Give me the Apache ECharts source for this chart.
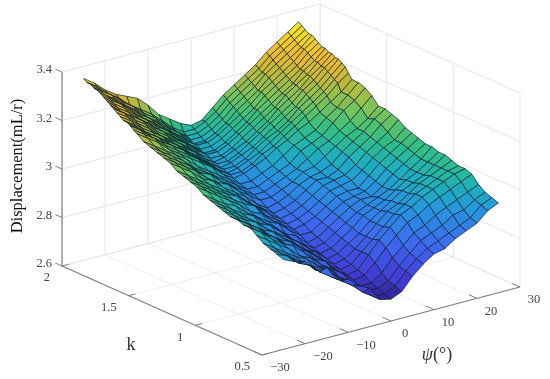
<!DOCTYPE html>
<html><head><meta charset="utf-8">
<style>html,body{margin:0;padding:0;background:#fff}#c{width:550px;height:379px}</style>
<script src="https://cdn.jsdelivr.net/npm/echarts@6/dist/echarts.min.js"></script>
</head><body><div id="c"></div>
<script>
const psiTicks=[-30,-20,-10,0,10,20,30];
const kTicks=[0.5,1,1.5,2];
const zTicks=[2.6,2.8,3,3.2,3.4];
const zTickLabels=['2.6','2.8','3','3.2','3.4'];
const psiValues=[-25,-22.5,-20,-17.5,-15,-12.5,-10,-7.5,-5,-2.5,0,2.5,5,7.5,10,12.5,15,17.5,20,22.5,25];
const kValues=[2,1.975,1.95,1.925,1.9,1.875,1.85,1.825,1.8,1.775,1.75,1.725,1.7,1.675,1.65,1.625,1.6,1.55,1.5,1.45,1.4,1.35,1.3,1.25,1.2,1.15,1.1,1.05,1,0.95,0.9,0.85,0.8,0.75,0.7,0.65,0.6,0.55,0.5];
const displacement=[
[3.35,3.32,3.28,3.25,3.23,3.21,3.17,3.12,3.09,3.06,3.04,3.05,3.09,3.13,3.16,3.19,3.22,3.26,3.29,3.32,3.35],
[3.34,3.31,3.27,3.24,3.20,3.17,3.14,3.10,3.06,3.03,3.03,3.05,3.08,3.12,3.15,3.18,3.21,3.25,3.28,3.31,3.34],
[3.34,3.30,3.27,3.23,3.20,3.16,3.13,3.09,3.05,3.02,3.02,3.04,3.07,3.11,3.14,3.17,3.20,3.24,3.27,3.30,3.33],
[3.33,3.29,3.26,3.22,3.19,3.15,3.12,3.08,3.05,3.01,3.01,3.03,3.06,3.10,3.13,3.16,3.20,3.23,3.26,3.29,3.32],
[3.33,3.29,3.25,3.22,3.18,3.15,3.11,3.07,3.04,3.00,3.00,3.02,3.05,3.09,3.12,3.15,3.19,3.22,3.25,3.28,3.32],
[3.32,3.28,3.25,3.21,3.17,3.14,3.10,3.07,3.03,3.00,3.00,3.02,3.05,3.08,3.11,3.15,3.18,3.21,3.24,3.28,3.31],
[3.31,3.27,3.24,3.20,3.17,3.13,3.10,3.06,3.02,2.99,2.99,3.01,3.04,3.07,3.10,3.14,3.17,3.20,3.23,3.27,3.30],
[3.30,3.26,3.23,3.19,3.16,3.12,3.09,3.05,3.02,2.98,2.98,3.00,3.03,3.06,3.10,3.13,3.16,3.19,3.22,3.26,3.29],
[3.29,3.25,3.22,3.19,3.15,3.12,3.08,3.05,3.01,2.98,2.98,3.00,3.03,3.06,3.09,3.12,3.15,3.18,3.22,3.25,3.29],
[3.28,3.25,3.21,3.18,3.14,3.11,3.07,3.04,3.00,2.97,2.97,2.99,3.02,3.05,3.08,3.11,3.15,3.18,3.21,3.25,3.28],
[3.27,3.24,3.20,3.17,3.13,3.10,3.07,3.03,2.99,2.96,2.97,2.99,3.01,3.04,3.07,3.11,3.14,3.17,3.21,3.24,3.28],
[3.26,3.23,3.19,3.16,3.13,3.09,3.06,3.03,2.99,2.96,2.96,2.98,3.01,3.04,3.07,3.10,3.13,3.17,3.20,3.24,3.27],
[3.25,3.22,3.18,3.15,3.12,3.09,3.05,3.02,2.98,2.95,2.96,2.98,3.00,3.03,3.06,3.09,3.12,3.16,3.19,3.23,3.27],
[3.25,3.21,3.18,3.15,3.11,3.08,3.05,3.01,2.98,2.95,2.95,2.97,3.00,3.03,3.05,3.08,3.12,3.15,3.18,3.22,3.26],
[3.24,3.21,3.17,3.14,3.11,3.08,3.04,3.01,2.97,2.94,2.95,2.97,2.99,3.02,3.05,3.08,3.11,3.14,3.17,3.21,3.25],
[3.23,3.20,3.17,3.13,3.10,3.07,3.04,3.00,2.97,2.94,2.94,2.96,2.99,3.01,3.04,3.07,3.10,3.13,3.16,3.20,3.23],
[3.22,3.19,3.16,3.12,3.09,3.06,3.03,3.00,2.96,2.93,2.94,2.96,2.98,3.01,3.03,3.06,3.08,3.11,3.14,3.17,3.21],
[3.20,3.17,3.14,3.11,3.08,3.04,3.01,2.98,2.95,2.92,2.92,2.94,2.96,2.99,3.02,3.04,3.06,3.10,3.13,3.17,3.21],
[3.19,3.16,3.13,3.10,3.06,3.03,3.00,2.97,2.94,2.91,2.91,2.93,2.95,2.97,3.01,3.03,3.05,3.09,3.13,3.16,3.20],
[3.18,3.15,3.12,3.09,3.05,3.03,2.99,2.96,2.93,2.90,2.90,2.92,2.94,2.96,2.99,3.02,3.04,3.07,3.10,3.14,3.18],
[3.17,3.14,3.11,3.08,3.04,3.01,2.99,2.95,2.92,2.89,2.89,2.91,2.93,2.96,2.97,3.00,3.03,3.06,3.08,3.11,3.15],
[3.16,3.13,3.10,3.06,3.04,3.00,2.97,2.94,2.90,2.87,2.88,2.90,2.93,2.95,2.96,2.98,3.02,3.05,3.08,3.12,3.15],
[3.14,3.11,3.08,3.05,3.02,2.99,2.96,2.92,2.89,2.86,2.87,2.89,2.92,2.95,2.95,2.97,3.01,3.04,3.07,3.11,3.14],
[3.13,3.10,3.07,3.04,3.01,2.99,2.95,2.92,2.88,2.85,2.86,2.88,2.91,2.94,2.95,2.96,2.99,3.03,3.06,3.09,3.13],
[3.12,3.09,3.06,3.03,3.00,2.97,2.95,2.90,2.87,2.84,2.85,2.87,2.90,2.93,2.94,2.95,2.98,3.02,3.05,3.07,3.11],
[3.11,3.08,3.05,3.02,2.99,2.95,2.93,2.89,2.86,2.83,2.84,2.86,2.89,2.92,2.93,2.93,2.97,3.01,3.04,3.07,3.10],
[3.09,3.06,3.03,3.01,2.97,2.94,2.91,2.89,2.85,2.82,2.82,2.85,2.88,2.91,2.92,2.93,2.96,3.00,3.03,3.06,3.09],
[3.08,3.05,3.02,2.99,2.97,2.93,2.90,2.86,2.84,2.80,2.81,2.84,2.87,2.90,2.92,2.92,2.95,2.99,3.02,3.05,3.08],
[3.07,3.04,3.01,2.98,2.95,2.93,2.89,2.85,2.82,2.79,2.80,2.83,2.86,2.89,2.91,2.93,2.95,2.98,3.01,3.04,3.08],
[3.06,3.03,3.00,2.98,2.94,2.91,2.88,2.85,2.81,2.78,2.79,2.82,2.85,2.89,2.91,2.93,2.96,2.99,3.01,3.04,3.07],
[3.05,3.02,2.99,2.96,2.94,2.90,2.87,2.83,2.81,2.77,2.78,2.81,2.84,2.88,2.91,2.94,2.97,2.99,3.01,3.04,3.07],
[3.05,3.02,2.99,2.95,2.92,2.90,2.86,2.83,2.79,2.76,2.77,2.80,2.84,2.88,2.92,2.94,2.97,3.00,3.02,3.04,3.06],
[3.04,3.01,2.98,2.95,2.91,2.88,2.86,2.82,2.78,2.75,2.76,2.80,2.84,2.88,2.92,2.95,2.98,3.00,3.02,3.04,3.05],
[3.04,3.01,2.97,2.94,2.92,2.88,2.84,2.82,2.77,2.74,2.75,2.80,2.85,2.89,2.93,2.95,2.98,3.00,3.02,3.04,3.05],
[3.02,2.99,2.96,2.93,2.89,2.87,2.83,2.80,2.77,2.73,2.74,2.78,2.83,2.87,2.91,2.93,2.96,2.98,3.00,3.02,3.04],
[3.00,2.97,2.94,2.91,2.89,2.85,2.83,2.78,2.75,2.72,2.72,2.75,2.80,2.84,2.88,2.90,2.93,2.95,2.97,2.99,3.01],
[2.99,2.96,2.93,2.90,2.87,2.85,2.81,2.78,2.74,2.71,2.71,2.73,2.78,2.82,2.86,2.88,2.90,2.93,2.94,2.97,2.99],
[2.98,2.96,2.92,2.90,2.86,2.83,2.80,2.77,2.73,2.70,2.70,2.72,2.77,2.81,2.84,2.86,2.88,2.90,2.92,2.96,2.98],
[2.97,2.95,2.94,2.89,2.89,2.83,2.82,2.78,2.76,2.70,2.69,2.71,2.76,2.80,2.83,2.84,2.87,2.89,2.91,2.95,2.97]
];

// View of the 3D box on the page plane
const view={x0:262,y0:355,px:4.3,py:1.133,kx:133.3,ky:59.3,zy:242.5};
function project(p,k,z){
  return [view.x0+(p+30)*view.px-(k-0.5)*view.kx,
          view.y0-(p+30)*view.py-(k-0.5)*view.ky-(z-2.6)*view.zy];
}
const stops=[[0,[44,30,130]],[0.1,[66,60,215]],[0.25,[62,105,240]],[0.38,[40,145,225]],[0.48,[30,175,190]],[0.58,[50,190,130]],[0.68,[120,195,90]],[0.78,[190,185,60]],[0.87,[240,185,50]],[1,[248,240,30]]];
function parula(z,shade){
  const t=Math.max(0,Math.min(1,(z-2.68)/0.67));
  let rgb=stops[stops.length-1][1];
  for(let i=1;i<stops.length;i++){
    if(t<=stops[i][0]){
      const a=stops[i-1],b=stops[i],f=(t-a[0])/(b[0]-a[0]);
      rgb=a[1].map((v,n)=>v+(b[1][n]-v)*f);
      break;
    }
  }
  return 'rgb('+rgb.map(v=>Math.round(v*shade)).join(',')+')';
}
const cells=[];
for(let r=0;r<kValues.length-1;r++) for(let c=psiValues.length-2;c>=0;c--) cells.push([c,r]);

const lineEl=(api,a,b,color,w)=>{
  const s=api.coord(a),e=api.coord(b);
  return {type:'line',shape:{x1:s[0],y1:s[1],x2:e[0],y2:e[1]},style:{stroke:color,lineWidth:w},silent:true};
};
const textEl=(api,at,text,align,size,extra)=>{
  const q=api.coord(at);
  return {type:'text',x:q[0],y:q[1],silent:true,style:Object.assign({text:text,textAlign:align,textVerticalAlign:'middle',fontFamily:'Liberation Serif',fontSize:size,fill:'#444'},extra||{})};
};
const GRID='#e6e6e6',FLOOR='#eeeeee',AXIS='#808080';
function frame(params,api){
  const ch=[];
  const zMin=zTicks[0],zMax=zTicks[zTicks.length-1],pMin=psiTicks[0],pMax=psiTicks[psiTicks.length-1],kMin=kTicks[0],kMax=kTicks[kTicks.length-1];
  psiTicks.forEach(p=>{
    ch.push(lineEl(api,project(p,kMin,zMin),project(p,kMax,zMin),FLOOR,1));
    ch.push(lineEl(api,project(p,kMax,zMin),project(p,kMax,zMax),GRID,1));
  });
  kTicks.forEach(k=>{
    ch.push(lineEl(api,project(pMin,k,zMin),project(pMax,k,zMin),FLOOR,1));
    ch.push(lineEl(api,project(pMax,k,zMin),project(pMax,k,zMax),GRID,1));
  });
  zTicks.forEach(z=>{
    ch.push(lineEl(api,project(pMin,kMax,z),project(pMax,kMax,z),GRID,1));
    ch.push(lineEl(api,project(pMax,kMax,z),project(pMax,kMin,z),GRID,1));
  });
  ch.push(lineEl(api,project(pMin,kMin,zMin),project(pMax,kMin,zMin),AXIS,1.2));
  ch.push(lineEl(api,project(pMin,kMin,zMin),project(pMin,kMax,zMin),AXIS,1.2));
  ch.push(lineEl(api,project(pMin,kMax,zMin),project(pMin,kMax,zMax),AXIS,1.2));
  psiTicks.forEach(p=>{
    const a=project(p,kMin,zMin);
    ch.push(lineEl(api,a,project(p,kMin+0.06,zMin),AXIS,1));
    ch.push(textEl(api,[a[0]+(p<0?18:14),a[1]+13],String(p).replace('-','\u2212'),'center',12.5));
  });
  kTicks.forEach(k=>{
    const a=project(pMin,k,zMin);
    ch.push(lineEl(api,a,project(pMin+1.6,k,zMin),AXIS,1));
    ch.push(textEl(api,[a[0]-12,a[1]+12],String(k),'right',12.5));
  });
  zTicks.forEach((z,i)=>{
    const a=project(pMin,kMax,z);
    ch.push(lineEl(api,a,project(pMin,kMax+0.05,z),AXIS,1));
    ch.push(textEl(api,[a[0]-10,a[1]-2],zTickLabels[i],'right',12.5));
  });
  const lab=api.coord([18,166]);
  ch.push({type:'text',x:lab[0],y:lab[1],rotation:Math.PI/2,silent:true,style:{text:'Displacement(mL/r)',textAlign:'center',textVerticalAlign:'middle',fontFamily:'Liberation Serif',fontSize:16.5,fill:'#111'}});
  ch.push(textEl(api,[131,345],'k','center',18,{fill:'#333'}));
  ch.push(textEl(api,[433,355],'\u03C8','right',18,{fill:'#333',fontStyle:'italic'}));
  ch.push(textEl(api,[433,355],'(\u00B0)','left',18,{fill:'#333'}));
  return {type:'group',children:ch};
}
function cell(params,api){
  const c=api.value(0),r=api.value(1);
  const idx=[[c,r],[c+1,r],[c+1,r+1],[c,r+1]];
  let sum=0;
  const pts=idx.map(q=>{
    const z=displacement[q[1]][q[0]];
    sum+=z;
    return api.coord(project(psiValues[q[0]],kValues[q[1]],z));
  });
  let area=0;
  pts.forEach((a,i)=>{const b=pts[(i+1)%4];area+=a[0]*b[1]-b[0]*a[1];});
  area=Math.abs(area)/2;
  const shade=0.5+0.5*Math.min(1,area/32);
  return {type:'polygon',shape:{points:pts},silent:true,
    style:{fill:parula(sum/4,shade),stroke:'rgba(10,30,40,0.85)',lineWidth:0.8,lineJoin:'round'}};
}
const chart=echarts.init(document.getElementById('c'),null,{renderer:'canvas'});
chart.setOption({
  animation:false,
  backgroundColor:'#fff',
  grid:{left:0,right:0,top:0,bottom:0},
  xAxis:{type:'value',min:0,max:550,show:false},
  yAxis:{type:'value',min:0,max:379,inverse:true,show:false},
  series:[
    {type:'custom',coordinateSystem:'cartesian2d',clip:false,silent:true,z:1,renderItem:frame,data:[[0,0]]},
    {type:'custom',coordinateSystem:'cartesian2d',clip:false,silent:true,z:2,renderItem:cell,data:cells}
  ]
});
</script></body></html>
